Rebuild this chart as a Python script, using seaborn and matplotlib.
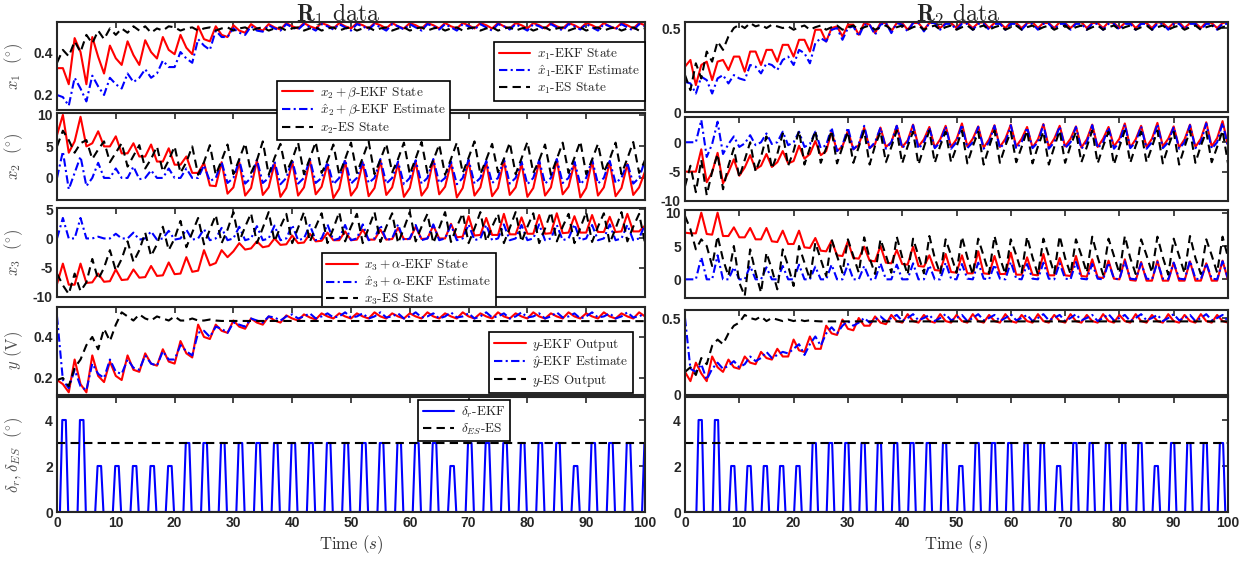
import matplotlib
matplotlib.use("Agg")
import matplotlib.pyplot as plt
from matplotlib.font_manager import FontProperties
import seaborn as sns

# time grid (s), one sample per second
T = list(range(101))

# ---------------- R1 data (left column) ----------------
L_X1_EKF = [0.325, 0.325, 0.25, 0.465, 0.40, 0.25, 0.47, 0.378, 0.30, 0.43,
            0.371, 0.34, 0.45, 0.386, 0.34, 0.455, 0.40, 0.37, 0.47, 0.41,
            0.39, 0.48, 0.42, 0.39, 0.52, 0.46, 0.45, 0.52, 0.48, 0.47,
            0.525, 0.50, 0.49, 0.53, 0.51, 0.50, 0.53, 0.515, 0.505, 0.535,
            0.52, 0.51, 0.535, 0.52, 0.51, 0.535, 0.525, 0.51, 0.535, 0.52,
            0.51, 0.535, 0.525, 0.51, 0.535, 0.525, 0.51, 0.535, 0.52, 0.51,
            0.535, 0.525, 0.51, 0.535, 0.525, 0.51, 0.535, 0.52, 0.51, 0.535,
            0.525, 0.51, 0.535, 0.525, 0.51, 0.535, 0.52, 0.51, 0.535, 0.525,
            0.51, 0.535, 0.525, 0.51, 0.535, 0.52, 0.51, 0.535, 0.525, 0.51,
            0.535, 0.525, 0.51, 0.535, 0.52, 0.51, 0.535, 0.525, 0.51, 0.535,
            0.525]
L_X1_EST = [0.20, 0.19, 0.15, 0.28, 0.23, 0.17, 0.29, 0.24, 0.20, 0.28,
            0.25, 0.23, 0.30, 0.26, 0.28, 0.32, 0.28, 0.30, 0.36, 0.33,
            0.33, 0.40, 0.37, 0.35, 0.46, 0.43, 0.41, 0.50, 0.47, 0.47,
            0.51, 0.49, 0.48, 0.52, 0.50, 0.495, 0.525, 0.51, 0.50, 0.53,
            0.515, 0.505, 0.53, 0.515, 0.50, 0.53, 0.52, 0.505, 0.53, 0.515,
            0.50, 0.53, 0.52, 0.505, 0.53, 0.515, 0.50, 0.53, 0.52, 0.505,
            0.53, 0.515, 0.50, 0.53, 0.52, 0.505, 0.53, 0.515, 0.50, 0.53,
            0.52, 0.505, 0.53, 0.515, 0.50, 0.53, 0.52, 0.505, 0.53, 0.515,
            0.50, 0.53, 0.52, 0.505, 0.53, 0.515, 0.50, 0.53, 0.52, 0.505,
            0.53, 0.515, 0.50, 0.53, 0.52, 0.505, 0.53, 0.515, 0.50, 0.53,
            0.52]
L_X1_ES = [0.35, 0.41, 0.38, 0.45, 0.40, 0.48, 0.44, 0.50, 0.46, 0.51,
           0.48, 0.51, 0.49, 0.52, 0.50, 0.52, 0.49, 0.51, 0.50, 0.52,
           0.515, 0.50, 0.51, 0.515, 0.50, 0.51, 0.515, 0.50, 0.51, 0.515,
           0.50, 0.51, 0.515, 0.50, 0.51, 0.515, 0.50, 0.51, 0.515, 0.50,
           0.51, 0.515, 0.50, 0.51, 0.515, 0.50, 0.51, 0.515, 0.50, 0.51,
           0.515, 0.50, 0.51, 0.515, 0.50, 0.51, 0.515, 0.50, 0.51, 0.515,
           0.50, 0.51, 0.515, 0.50, 0.51, 0.515, 0.50, 0.51, 0.515, 0.50,
           0.51, 0.515, 0.50, 0.51, 0.515, 0.50, 0.51, 0.515, 0.50, 0.51,
           0.515, 0.50, 0.51, 0.515, 0.50, 0.51, 0.515, 0.50, 0.51, 0.515,
           0.50, 0.51, 0.515, 0.50, 0.51, 0.515, 0.50, 0.51, 0.515, 0.50,
           0.51]

L_X2_EKF = [6.8, 10.0, 4.0, 5.8, 9.7, 5.0, 5.5, 7.4, 5.0, 5.0,
            6.6, 3.9, 3.9, 5.5, 3.4, 3.4, 5.3, 2.6, 2.6, 4.7,
            2.1, 2.1, 3.4, 0.8, 0.8, 2.4, -1.2, -1.3, 2.5, -2.5,
            -1.5, 2.5, -2.8, -1.6, 2.8, -2.7, -1.5, 2.3, -3.0, -1.6,
            2.6, -2.8, -1.5, 2.9, -2.6, -1.4, 2.2, -3.2, -1.7, 2.7,
            -2.8, -1.5, 2.4, -2.9, -1.6, 2.8, -2.7, -1.5, 2.3, -3.0,
            -1.6, 2.6, -2.8, -1.5, 2.9, -2.6, -1.4, 2.4, -3.1, -1.6,
            2.7, -2.8, -1.5, 2.5, -2.9, -1.6, 2.8, -2.7, -1.5, 2.3,
            -3.0, -1.6, 2.6, -2.8, -1.5, 2.9, -2.6, -1.4, 2.4, -3.1,
            -1.6, 2.7, -2.8, -1.5, 2.5, -2.9, -1.6, 2.2, -2.7, -1.5,
            1.0]
L_X2_EST = [0.0, 4.2, -1.8, 0.8, 3.4, -1.3, 0.0, 2.4, 0.0, 0.0,
            1.5, 0.0, 0.0, 1.8, -0.2, 0.0, 1.2, 0.0, 0.0, 1.5,
            0.0, 0.0, 1.5, 0.0, 0.0, 2.0, -0.5, 0.0, 2.5, -0.8,
            0.0, 2.8, -0.9, 0.0, 2.9, -0.8, 0.0, 2.6, -1.0, 0.0,
            2.8, -0.9, 0.0, 3.0, -0.8, 0.0, 2.5, -1.0, 0.0, 2.9,
            -0.9, 0.0, 2.7, -0.8, 0.0, 3.0, -0.9, 0.0, 2.6, -1.0,
            0.0, 2.8, -0.9, 0.0, 3.0, -0.8, 0.0, 2.6, -1.0, 0.0,
            2.9, -0.9, 0.0, 2.7, -0.8, 0.0, 3.0, -0.9, 0.0, 2.6,
            -1.0, 0.0, 2.8, -0.9, 0.0, 3.0, -0.8, 0.0, 2.6, -1.0,
            0.0, 2.9, -0.9, 0.0, 2.7, -0.8, 0.0, 2.4, -0.9, 0.0,
            2.8]
L_X2_ES = [5.0, 7.5, 6.0, 4.0, 5.5, 6.0, 3.0, 4.5, 5.8, 2.5,
           4.0, 5.5, 1.8, 3.5, 5.2, 1.5, 3.0, 5.0, 1.0, 2.8,
           5.0, 0.8, 2.5, 5.0, 0.5, 2.5, 5.2, 0.5, 2.8, 5.3,
           0.6, 3.0, 5.5, 0.8, 2.8, 5.8, 0.5, 3.2, 5.4, 0.9,
           2.9, 5.6, 0.6, 3.1, 5.7, 0.8, 2.7, 5.3, 0.5, 3.0,
           5.6, 0.8, 3.2, 5.8, 0.6, 2.9, 5.4, 0.9, 3.0, 5.6,
           0.6, 3.1, 5.7, 0.8, 2.8, 5.3, 0.5, 3.0, 5.6, 0.8,
           3.2, 5.8, 0.6, 2.9, 5.4, 0.9, 3.0, 5.6, 0.6, 3.1,
           5.7, 0.8, 2.8, 5.3, 0.5, 3.0, 5.6, 0.8, 3.2, 5.8,
           0.6, 2.9, 5.4, 0.9, 3.0, 5.6, 0.6, 3.1, 5.7, 0.8,
           2.8]

L_X3_EKF = [-7.8, -4.3, -7.9, -7.9, -4.3, -7.6, -7.5, -6.0, -7.4, -7.3,
            -5.3, -7.1, -7.0, -5.3, -6.7, -6.6, -4.7, -6.4, -6.3, -4.1,
            -6.1, -6.0, -3.2, -5.7, -5.5, -2.0, -4.6, -4.2, -2.0, -3.2,
            -2.2, -0.8, -1.9, -1.7, -0.5, -1.5, -1.3, 0.0, -1.1, -1.0,
            0.5, -0.8, -0.7, 0.8, -0.5, -0.4, 1.0, -0.3, -0.3, 1.2,
            -0.3, -0.2, 1.5, -0.2, -0.2, 1.5, -0.2, -0.1, 1.8, -0.1,
            -0.1, 2.0, -0.1, 0.0, 2.2, 0.0, 0.0, 2.5, 0.2, 0.3,
            3.8, 0.5, 0.6, 3.5, 0.6, 0.6, 4.2, 0.7, 0.7, 3.6,
            0.8, 0.8, 4.0, 0.8, 0.9, 4.3, 0.9, 1.0, 3.8, 1.0,
            1.0, 4.0, 1.1, 1.1, 3.7, 1.1, 1.2, 4.2, 1.2, 1.2,
            2.2]
L_X3_EST = [0.0, 3.5, 0.0, 0.0, 3.5, 0.0, 0.0, 0.3, 0.0, 0.0,
            0.8, 0.0, 0.0, 1.0, -0.2, 0.0, 1.2, -0.2, 0.0, 1.3,
            -0.2, 0.0, 1.5, -0.2, 0.0, 1.6, -0.3, 0.0, 1.8, -0.3,
            0.0, 2.0, -0.3, 0.0, 2.1, -0.3, 0.0, 2.2, -0.3, 0.0,
            2.3, -0.3, 0.0, 2.3, -0.3, 0.0, 2.4, -0.3, 0.0, 2.3,
            -0.3, 0.0, 2.4, -0.3, 0.0, 2.3, -0.3, 0.0, 2.4, -0.3,
            0.0, 2.3, -0.3, 0.0, 2.4, -0.3, 0.0, 2.3, -0.3, 0.0,
            2.4, -0.3, 0.0, 2.3, -0.3, 0.0, 2.4, -0.3, 0.0, 2.3,
            -0.3, 0.0, 2.4, -0.3, 0.0, 2.3, -0.3, 0.0, 2.4, -0.3,
            0.0, 2.3, -0.3, 0.0, 2.4, -0.3, 0.0, 2.3, -0.3, 0.0,
            2.4]
L_X3_ES = [-6.0, -8.0, -9.5, -6.0, -9.0, -7.5, -3.5, -7.0, -5.0, -2.0,
           -5.5, -3.5, -0.5, -4.0, -2.0, 1.0, -3.0, -1.0, 2.0, -2.0,
           0.0, 3.0, -1.5, 1.0, 3.5, -1.0, 1.5, 4.0, -0.8, 1.5,
           4.5, -0.5, 2.0, 4.3, -0.8, 1.8, 4.5, -0.5, 2.0, 4.2,
           -0.8, 1.8, 4.5, -0.6, 2.0, 4.3, -0.8, 1.7, 4.5, -0.5,
           2.0, 4.2, -0.8, 1.8, 4.5, -0.6, 2.0, 4.3, -0.8, 1.7,
           4.5, -0.5, 2.0, 4.2, -0.8, 1.8, 4.5, -0.6, 2.0, 4.3,
           -0.8, 1.7, 4.5, -0.5, 2.0, 4.2, -0.8, 1.8, 4.5, -0.6,
           2.0, 4.3, -0.8, 1.7, 4.5, -0.5, 2.0, 4.2, -0.8, 1.8,
           4.5, -0.6, 2.0, 4.3, -0.8, 1.7, 4.5, -0.5, 2.0, 4.2,
           -0.8]

L_Y_EKF = [0.19, 0.17, 0.13, 0.29, 0.17, 0.13, 0.31, 0.21, 0.18, 0.28,
           0.21, 0.19, 0.31, 0.24, 0.23, 0.32, 0.27, 0.26, 0.34, 0.28,
           0.27, 0.38, 0.32, 0.30, 0.46, 0.40, 0.39, 0.46, 0.43, 0.42,
           0.48, 0.45, 0.44, 0.49, 0.47, 0.46, 0.50, 0.48, 0.47, 0.505,
           0.49, 0.48, 0.51, 0.495, 0.485, 0.515, 0.50, 0.49, 0.515, 0.50,
           0.49, 0.515, 0.50, 0.49, 0.52, 0.50, 0.49, 0.515, 0.50, 0.49,
           0.515, 0.50, 0.49, 0.52, 0.50, 0.49, 0.515, 0.50, 0.49, 0.52,
           0.50, 0.49, 0.515, 0.50, 0.49, 0.52, 0.50, 0.49, 0.515, 0.50,
           0.49, 0.52, 0.50, 0.49, 0.515, 0.50, 0.49, 0.52, 0.50, 0.49,
           0.515, 0.50, 0.49, 0.52, 0.50, 0.49, 0.515, 0.50, 0.49, 0.52,
           0.50]
L_Y_EST = [0.50, 0.19, 0.15, 0.24, 0.16, 0.14, 0.27, 0.22, 0.20, 0.29,
           0.23, 0.22, 0.29, 0.25, 0.24, 0.31, 0.27, 0.26, 0.33, 0.29,
           0.29, 0.36, 0.33, 0.31, 0.42, 0.43, 0.40, 0.45, 0.44, 0.42,
           0.47, 0.46, 0.45, 0.49, 0.48, 0.47, 0.50, 0.495, 0.48, 0.50,
           0.51, 0.49, 0.50, 0.515, 0.49, 0.50, 0.515, 0.495, 0.50, 0.52,
           0.495, 0.50, 0.515, 0.49, 0.50, 0.52, 0.495, 0.50, 0.515, 0.49,
           0.50, 0.52, 0.495, 0.50, 0.515, 0.49, 0.50, 0.52, 0.495, 0.50,
           0.515, 0.49, 0.50, 0.52, 0.495, 0.50, 0.515, 0.49, 0.50, 0.52,
           0.495, 0.50, 0.515, 0.49, 0.50, 0.52, 0.495, 0.50, 0.515, 0.49,
           0.50, 0.52, 0.495, 0.50, 0.515, 0.49, 0.50, 0.52, 0.495, 0.50,
           0.515]
L_Y_ES_T = list(range(30)) + [100]
L_Y_ES = [0.19, 0.20, 0.16, 0.25, 0.29, 0.36, 0.40, 0.34, 0.44, 0.38,
          0.46, 0.52, 0.50, 0.48, 0.51, 0.49, 0.48, 0.50, 0.49, 0.48,
          0.50, 0.48, 0.48, 0.49, 0.48, 0.48, 0.485, 0.48, 0.478, 0.478,
          0.477]

L_PULSE_START = [0.5, 3.5, 6.5, 9.5, 12.5, 15.5, 18.5, 21.5, 24.5, 27.5,
                 30.5, 33.5, 36.5, 39.5, 42.5, 45.5, 48.5, 51.5, 54.5, 57.5,
                 60.5, 63.5, 66.5, 69.5, 72.5, 75.5, 78.5, 81.5, 84.5, 87.5,
                 90.5, 93.5, 96.5, 99.5]
L_PULSE_HEIGHT = [4, 4, 2, 2, 2, 2, 2, 3, 3, 3,
                  3, 3, 3, 3, 3, 3, 3, 3, 3, 3,
                  3, 3, 2, 3, 3, 3, 3, 3, 3, 2,
                  3, 3, 3, 3]

# ---------------- R2 data (right column) ----------------
R_X1_EKF = [0.27, 0.31, 0.16, 0.28, 0.30, 0.19, 0.30, 0.31, 0.25, 0.33,
            0.33, 0.24, 0.36, 0.36, 0.28, 0.37, 0.37, 0.30, 0.40, 0.40,
            0.33, 0.43, 0.43, 0.36, 0.49, 0.49, 0.42, 0.50, 0.51, 0.45,
            0.52, 0.52, 0.46, 0.53, 0.52, 0.47, 0.53, 0.53, 0.48, 0.53,
            0.53, 0.49, 0.53, 0.53, 0.49, 0.53, 0.535, 0.50, 0.53, 0.53,
            0.50, 0.535, 0.53, 0.50, 0.53, 0.535, 0.50, 0.53, 0.53, 0.50,
            0.535, 0.53, 0.50, 0.53, 0.535, 0.50, 0.53, 0.53, 0.50, 0.535,
            0.53, 0.50, 0.53, 0.535, 0.50, 0.53, 0.53, 0.50, 0.535, 0.53,
            0.50, 0.53, 0.535, 0.50, 0.53, 0.53, 0.50, 0.535, 0.53, 0.50,
            0.53, 0.535, 0.50, 0.53, 0.53, 0.50, 0.535, 0.53, 0.50, 0.53,
            0.535]
R_X1_EST = [0.18, 0.17, 0.11, 0.21, 0.19, 0.11, 0.20, 0.22, 0.17, 0.22,
            0.20, 0.19, 0.28, 0.27, 0.23, 0.29, 0.28, 0.25, 0.31, 0.33,
            0.28, 0.37, 0.35, 0.29, 0.41, 0.44, 0.42, 0.49, 0.50, 0.43,
            0.50, 0.51, 0.45, 0.52, 0.52, 0.46, 0.52, 0.53, 0.47, 0.53,
            0.52, 0.48, 0.53, 0.53, 0.48, 0.53, 0.53, 0.49, 0.525, 0.525,
            0.49, 0.525, 0.525, 0.49, 0.525, 0.525, 0.49, 0.525, 0.525, 0.49,
            0.525, 0.525, 0.49, 0.525, 0.525, 0.49, 0.525, 0.525, 0.49, 0.525,
            0.525, 0.49, 0.525, 0.525, 0.49, 0.525, 0.525, 0.49, 0.525, 0.525,
            0.49, 0.525, 0.525, 0.49, 0.525, 0.525, 0.49, 0.525, 0.525, 0.49,
            0.525, 0.525, 0.49, 0.525, 0.525, 0.49, 0.525, 0.525, 0.49, 0.525,
            0.525]
R_X1_ES = [0.22, 0.13, 0.29, 0.20, 0.36, 0.30, 0.42, 0.37, 0.45, 0.50,
           0.52, 0.50, 0.53, 0.51, 0.52, 0.50, 0.52, 0.51, 0.50, 0.51,
           0.49, 0.505, 0.515, 0.49, 0.505, 0.515, 0.49, 0.505, 0.515, 0.49,
           0.505, 0.515, 0.49, 0.505, 0.515, 0.49, 0.505, 0.515, 0.49, 0.505,
           0.515, 0.49, 0.505, 0.515, 0.49, 0.505, 0.515, 0.49, 0.505, 0.515,
           0.49, 0.505, 0.515, 0.49, 0.505, 0.515, 0.49, 0.505, 0.515, 0.49,
           0.505, 0.515, 0.49, 0.505, 0.515, 0.49, 0.505, 0.515, 0.49, 0.505,
           0.515, 0.49, 0.505, 0.515, 0.49, 0.505, 0.515, 0.49, 0.505, 0.515,
           0.49, 0.505, 0.515, 0.49, 0.505, 0.515, 0.49, 0.505, 0.515, 0.49,
           0.505, 0.515, 0.49, 0.505, 0.515, 0.49, 0.505, 0.515, 0.49, 0.505,
           0.515]

R_X2_EKF = [-5.0, -5.0, -5.0, -1.2, -6.8, -5.1, -1.8, -7.0, -5.1, -2.9,
            -5.7, -4.3, -2.2, -4.6, -4.0, -2.0, -4.2, -3.4, -1.5, -3.6,
            -3.2, -0.6, -2.8, -2.0, 0.2, -2.2, -1.5, 1.8, -1.5, -0.7,
            2.0, -1.2, -0.5, 2.5, -1.0, -0.3, 2.5, -0.8, 0.0, 2.8,
            -0.8, 0.3, 3.0, -0.7, 0.5, 2.6, -0.9, 0.5, 2.8, -0.8,
            0.5, 3.2, -0.7, 0.6, 2.7, -0.9, 0.5, 2.9, -0.8, 0.6,
            3.0, -0.7, 0.6, 2.6, -0.9, 0.5, 3.1, -0.8, 0.6, 2.8,
            -0.7, 0.6, 2.7, -0.9, 0.5, 3.0, -0.8, 0.6, 2.6, -0.7,
            0.6, 3.2, -0.9, 0.5, 2.8, -0.8, 0.6, 3.3, -0.7, 0.6,
            2.7, -0.9, 0.5, 3.0, -0.8, 0.6, 3.4, -0.7, 0.7, 3.6,
            -0.5]
R_X2_EST = [0.0, 0.0, 0.0, 3.8, -2.5, -0.3, 3.5, -2.0, -0.3, 1.0,
            -0.8, -0.2, 1.2, -0.5, 0.0, 1.5, -0.3, 0.0, 1.8, -0.5,
            0.0, 1.8, -0.8, -0.3, 1.8, -1.0, -0.5, 2.5, -1.5, -0.5,
            2.5, -1.2, -0.3, 2.8, -1.0, 0.0, 2.5, -1.1, 0.0, 2.8,
            -1.0, 0.0, 2.9, -1.1, 0.0, 2.5, -1.0, 0.0, 2.7, -1.1,
            0.0, 3.0, -1.0, 0.0, 2.6, -1.1, 0.0, 2.8, -1.0, 0.0,
            2.9, -1.1, 0.0, 2.5, -1.0, 0.0, 3.0, -1.1, 0.0, 2.7,
            -1.0, 0.0, 2.6, -1.1, 0.0, 2.9, -1.0, 0.0, 2.5, -1.1,
            0.0, 3.0, -1.0, 0.0, 2.7, -1.1, 0.0, 3.1, -1.0, 0.0,
            2.6, -1.1, 0.0, 2.9, -1.0, 0.0, 3.2, -1.1, 0.0, 3.3,
            -0.8]
R_X2_ES = [-7.5, -4.0, -8.5, -3.0, -9.0, -5.0, -2.0, -8.0, -4.0, -1.0,
           -6.0, -3.0, 0.0, -5.0, -2.5, 1.0, -4.5, -2.0, 1.5, -4.0,
           -1.5, 2.0, -3.8, -1.0, 2.0, -3.5, -1.0, 2.0, -3.6, -0.8,
           1.8, -3.5, -0.8, 2.0, -3.8, -0.6, 1.8, -3.4, -0.8, 2.0,
           -3.6, -0.7, 1.8, -3.8, -0.8, 2.0, -3.5, -0.6, 1.8, -3.4,
           -0.8, 2.0, -3.6, -0.7, 1.8, -3.8, -0.8, 2.0, -3.5, -0.6,
           1.8, -3.4, -0.8, 2.0, -3.6, -0.7, 1.8, -3.8, -0.8, 2.0,
           -3.5, -0.6, 1.8, -3.4, -0.8, 2.0, -3.6, -0.7, 1.8, -3.8,
           -0.8, 2.0, -3.5, -0.6, 1.8, -3.4, -0.8, 2.0, -3.6, -0.7,
           1.8, -3.8, -0.8, 2.0, -3.5, -0.6, 1.8, -3.4, -0.8, 2.0,
           -3.6]

R_X3_EKF = [7.0, 6.9, 6.9, 10.0, 6.8, 6.7, 10.0, 6.5, 6.5, 7.8,
            6.3, 6.3, 7.7, 6.0, 6.0, 7.7, 5.7, 5.6, 7.3, 5.3,
            5.3, 7.3, 4.8, 4.7, 6.2, 4.3, 4.2, 5.8, 3.6, 3.5,
            5.7, 3.2, 3.1, 4.9, 2.8, 2.7, 5.0, 2.5, 2.4, 4.4,
            2.3, 2.2, 4.9, 2.0, 1.9, 3.6, 1.4, 1.3, 3.8, 1.1,
            1.0, 3.6, 0.9, 0.9, 4.2, 0.9, 0.8, 3.5, 0.8, 0.8,
            4.0, 0.7, 0.7, 3.3, 0.7, 0.6, 3.8, 0.6, 0.6, 3.2,
            0.6, 0.5, 3.5, 0.5, 0.4, 3.0, 0.3, 0.2, 2.8, 0.1,
            0.0, 3.0, -0.1, -0.2, 2.6, -0.2, -0.2, 2.8, -0.2, -0.2,
            2.5, -0.2, -0.2, 2.7, -0.2, -0.2, 2.4, -0.2, -0.2, 2.8,
            -0.1]
R_X3_EST = [0.0, 0.0, 0.0, 3.3, 0.0, 0.0, 3.6, 0.0, 0.0, 1.8,
            0.0, 0.0, 2.0, 0.0, 0.0, 1.8, 0.0, 0.0, 2.0, 0.0,
            0.0, 2.2, 0.0, 0.0, 1.9, 0.0, 0.0, 2.2, 0.0, 0.0,
            2.3, 0.0, 0.0, 2.0, 0.0, 0.0, 2.4, 0.0, 0.0, 2.2,
            0.0, 0.0, 2.4, 0.0, 0.0, 2.1, 0.0, 0.0, 2.5, 0.1,
            0.0, 2.3, 0.1, 0.0, 2.5, 0.1, 0.0, 2.2, 0.1, 0.0,
            2.6, 0.1, 0.0, 2.3, 0.1, 0.0, 2.5, 0.1, 0.0, 2.4,
            0.1, 0.0, 2.6, 0.1, 0.0, 2.3, 0.1, 0.0, 2.5, 0.1,
            0.0, 2.7, 0.1, 0.0, 2.4, 0.1, 0.0, 2.6, 0.1, 0.0,
            2.5, 0.1, 0.0, 2.8, 0.1, 0.0, 2.4, 0.1, 0.0, 2.7,
            0.1]
R_X3_ES = [9.5, 7.5, 4.5, 6.0, 5.0, 2.0, 6.5, 3.0, 0.5, 5.0,
           -0.5, -2.5, 4.5, 1.0, -2.0, 4.0, 1.5, -1.5, 4.5, 2.0,
           -1.0, 5.0, 2.5, 0.0, 5.5, 3.0, 0.5, 6.0, 3.5, 1.0,
           6.0, 3.5, 1.0, 6.3, 3.2, 0.8, 6.0, 3.6, 1.0, 6.4,
           3.3, 0.7, 6.1, 3.5, 0.9, 6.5, 3.2, 0.8, 6.0, 3.6,
           1.0, 6.4, 3.3, 0.7, 6.1, 3.5, 0.9, 6.5, 3.2, 0.8,
           6.0, 3.6, 1.0, 6.4, 3.3, 0.7, 6.1, 3.5, 0.9, 6.5,
           3.2, 0.8, 6.0, 3.6, 1.0, 6.4, 3.3, 0.7, 6.1, 3.5,
           0.9, 6.5, 3.2, 0.8, 6.0, 3.6, 1.0, 6.4, 3.3, 0.7,
           6.1, 3.5, 0.9, 6.5, 3.2, 0.8, 6.0, 3.6, 1.0, 6.4,
           3.3]

R_Y_EKF = [0.15, 0.09, 0.21, 0.14, 0.09, 0.25, 0.18, 0.15, 0.23, 0.18,
           0.17, 0.25, 0.21, 0.20, 0.28, 0.24, 0.23, 0.30, 0.25, 0.25,
           0.36, 0.29, 0.28, 0.38, 0.30, 0.30, 0.45, 0.40, 0.39, 0.49,
           0.43, 0.42, 0.50, 0.45, 0.45, 0.51, 0.47, 0.46, 0.52, 0.48,
           0.47, 0.525, 0.48, 0.47, 0.52, 0.48, 0.47, 0.525, 0.48, 0.47,
           0.52, 0.48, 0.47, 0.525, 0.48, 0.47, 0.52, 0.48, 0.47, 0.525,
           0.48, 0.47, 0.52, 0.48, 0.47, 0.525, 0.48, 0.47, 0.52, 0.48,
           0.47, 0.525, 0.48, 0.47, 0.52, 0.48, 0.47, 0.525, 0.48, 0.47,
           0.52, 0.48, 0.47, 0.525, 0.48, 0.47, 0.52, 0.48, 0.47, 0.525,
           0.48, 0.47, 0.52, 0.48, 0.47, 0.525, 0.48, 0.47, 0.52, 0.48,
           0.47]
R_Y_EST = [0.50, 0.17, 0.15, 0.20, 0.10, 0.17, 0.21, 0.17, 0.19, 0.22,
           0.18, 0.20, 0.25, 0.22, 0.24, 0.28, 0.24, 0.26, 0.28, 0.27,
           0.30, 0.33, 0.26, 0.33, 0.38, 0.32, 0.40, 0.44, 0.40, 0.45,
           0.48, 0.45, 0.47, 0.50, 0.47, 0.49, 0.51, 0.48, 0.50, 0.52,
           0.48, 0.50, 0.525, 0.485, 0.50, 0.52, 0.48, 0.50, 0.525, 0.485,
           0.50, 0.52, 0.48, 0.50, 0.525, 0.485, 0.50, 0.52, 0.48, 0.50,
           0.525, 0.485, 0.50, 0.52, 0.48, 0.50, 0.525, 0.485, 0.50, 0.52,
           0.48, 0.50, 0.525, 0.485, 0.50, 0.52, 0.48, 0.50, 0.525, 0.485,
           0.50, 0.52, 0.48, 0.50, 0.525, 0.485, 0.50, 0.52, 0.48, 0.50,
           0.525, 0.485, 0.50, 0.52, 0.48, 0.50, 0.525, 0.485, 0.50, 0.52,
           0.48]
R_Y_ES_T = list(range(26)) + [100]
R_Y_ES = [0.15, 0.18, 0.13, 0.24, 0.20, 0.32, 0.36, 0.33, 0.40, 0.45,
          0.47, 0.52, 0.50, 0.49, 0.51, 0.48, 0.50, 0.49, 0.48, 0.49,
          0.48, 0.49, 0.48, 0.485, 0.48, 0.478, 0.478]

R_PULSE_START = [2.1, 5.1, 8.1, 11.1, 14.1, 17.1, 20.1, 23.1, 26.1, 29.1,
                 32.1, 35.1, 38.1, 41.1, 44.1, 47.1, 50.1, 53.1, 56.1, 59.1,
                 62.1, 65.1, 68.1, 71.1, 74.1, 77.1, 80.1, 83.1, 86.1, 89.1,
                 92.1, 95.1, 98.1]
R_PULSE_HEIGHT = [4, 4, 2, 2, 2, 2, 2, 3, 3, 3,
                  3, 3, 3, 3, 3, 3, 2, 3, 3, 3,
                  3, 3, 2, 3, 3, 3, 3, 3, 2, 3,
                  3, 3, 3]

# extremum-seeking steering input is constant
ES_DELTA_T = [0, 100]
ES_DELTA = [3, 3]

LEG_X1 = [r"$x_1$-EKF State", r"$\hat{x}_1$-EKF Estimate", r"$x_1$-ES State"]
LEG_X2 = [r"$x_2+\beta$-EKF State", r"$\hat{x}_2+\beta$-EKF Estimate", r"$x_2$-ES State"]
LEG_X3 = [r"$x_3+\alpha$-EKF State", r"$\hat{x}_3+\alpha$-EKF Estimate", r"$x_3$-ES State"]
LEG_Y = [r"$y$-EKF Output", r"$\hat{y}$-EKF Estimate", r"$y$-ES Output"]
LEG_D = [r"$\delta_r$-EKF", r"$\delta_{ES}$-ES"]

sns.set_style("white")
plt.rcParams["font.family"] = ["Liberation Sans", "DejaVu Sans"]
plt.rcParams["font.weight"] = "bold"
plt.rcParams["mathtext.fontset"] = "cm"
plt.rcParams["axes.unicode_minus"] = False

RED, BLUE, BLACK = "#ff0000", "#0000ff", "#000000"
DASH = (0, (4, 2.5))
DASHDOT = (0, (4, 1.6, 1, 1.6))
LEG_FONT = FontProperties(family="cmr10", size=9.5)
AX_COL = "#262626"

W, H = 1255, 563
fig = plt.figure(figsize=(12.55, 5.63), dpi=100)


def add_axes(l, t, r, b):
    return fig.add_axes([l / W, 1 - b / H, (r - l) / W, (b - t) / H])


def pulse_train(starts, heights):
    xs, ys = [0.0], [0.0]
    for s, h in zip(starts, heights):
        xs += [s, s + 0.4, s + 1.0, s + 1.4]
        ys += [0, h, h, 0]
    if xs[-1] < 100:
        xs.append(100.0)
        ys.append(0.0)
    return xs, ys


def draw(ax, x, y, color, ls, label):
    sns.lineplot(x=x, y=y, ax=ax, color=color, linestyle=ls, linewidth=1.5,
                 label=label, estimator=None, sort=False, legend=False)


def style(ax, ylim, yticks, yticklabels, show_x):
    ax.set_xlim(0, 100)
    ax.set_ylim(*ylim)
    ax.set_xticks(range(0, 101, 10))
    ax.set_yticks(yticks)
    ax.set_yticklabels(yticklabels)
    ax.tick_params(direction="in", length=4, width=1.2, top=True, right=True,
                   colors=AX_COL, labelsize=10, pad=3)
    if not show_x:
        ax.set_xticklabels([])
    for sp in ax.spines.values():
        sp.set_linewidth(1.5)
        sp.set_color(AX_COL)
        sp.set_visible(True)
    ax.set_xlabel("")
    ax.set_ylabel("")


def legend(ax, loc, anchor):
    leg = ax.legend(loc=loc, bbox_to_anchor=anchor, borderaxespad=0,
                    prop=LEG_FONT, frameon=True, fancybox=False,
                    edgecolor="black", framealpha=1, handlelength=2.4,
                    handletextpad=0.5, borderpad=0.35, labelspacing=0.12)
    leg.get_frame().set_linewidth(1.2)


def ylabel(ax, text):
    ax.set_ylabel(text, fontsize=12, color="#505050", fontweight="normal")
    ax.yaxis.set_label_coords(-0.054, 0.5)


# ---------------- left column: R1 ----------------
ax = add_axes(57, 22, 645, 110)
draw(ax, T, L_X1_EKF, RED, "-", LEG_X1[0])
draw(ax, T, L_X1_EST, BLUE, DASHDOT, LEG_X1[1])
draw(ax, T, L_X1_ES, BLACK, DASH, LEG_X1[2])
style(ax, (0.13, 0.54), [0.2, 0.4], ["0.2", "0.4"], False)
ylabel(ax, r"$x_1\ \ (^{\circ})$")
legend(ax, "upper right", (1.0, 0.775))

ax = add_axes(57, 113, 645, 200)
draw(ax, T, L_X2_EKF, RED, "-", LEG_X2[0])
draw(ax, T, L_X2_EST, BLUE, DASHDOT, LEG_X2[1])
draw(ax, T, L_X2_ES, BLACK, DASH, LEG_X2[2])
style(ax, (-3.5, 10.3), [0, 5, 10], ["0", "5", "10"], False)
ylabel(ax, r"$x_2\ \ (^{\circ})$")
legend(ax, "upper left", (0.374, 1.368))

ax = add_axes(57, 208, 645, 297)
draw(ax, T, L_X3_EKF, RED, "-", LEG_X3[0])
draw(ax, T, L_X3_EST, BLUE, DASHDOT, LEG_X3[1])
draw(ax, T, L_X3_ES, BLACK, DASH, LEG_X3[2])
style(ax, (-10, 5.2), [-10, -5, 0, 5], ["-10", "-5", "0", "5"], False)
ylabel(ax, r"$x_3\ \ (^{\circ})$")
legend(ax, "upper left", (0.45, 0.494))

ax = add_axes(57, 307, 645, 395)
draw(ax, T, L_Y_EKF, RED, "-", LEG_Y[0])
draw(ax, T, L_Y_EST, BLUE, DASHDOT, LEG_Y[1])
draw(ax, L_Y_ES_T, L_Y_ES, BLACK, DASH, LEG_Y[2])
style(ax, (0.117, 0.546), [0.2, 0.4], ["0.2", "0.4"], False)
ylabel(ax, r"$y\ (\mathrm{V})$")
legend(ax, "upper right", (0.98, 0.716))

ax = add_axes(57, 397, 645, 512)
px, py = pulse_train(L_PULSE_START, L_PULSE_HEIGHT)
draw(ax, px, py, BLUE, "-", LEG_D[0])
draw(ax, ES_DELTA_T, ES_DELTA, BLACK, DASH, LEG_D[1])
style(ax, (0, 5), [0, 2, 4], ["0", "2", "4"], True)
ylabel(ax, r"$\delta_r, \delta_{ES}\ \ (^{\circ})$")
ax.set_xlabel(r"Time $(s)$", fontfamily="cmr10", fontweight="normal",
              fontsize=12, color="#333333", labelpad=2)
legend(ax, "upper left", (0.614, 0.974))

fig.text(338 / W, 1 - 1.5 / H, r"$\mathbf{R}_1$ data", fontfamily="cmr10",
         fontweight="normal", fontsize=17, ha="center", va="top")

# ---------------- right column: R2 ----------------
ax = add_axes(685, 22, 1228, 112)
draw(ax, T, R_X1_EKF, RED, "-", LEG_X1[0])
draw(ax, T, R_X1_EST, BLUE, DASHDOT, LEG_X1[1])
draw(ax, T, R_X1_ES, BLACK, DASH, LEG_X1[2])
style(ax, (0, 0.536), [0, 0.5], ["0", "0.5"], False)

ax = add_axes(685, 117, 1228, 201)
draw(ax, T, R_X2_EKF, RED, "-", LEG_X2[0])
draw(ax, T, R_X2_EST, BLUE, DASHDOT, LEG_X2[1])
draw(ax, T, R_X2_ES, BLACK, DASH, LEG_X2[2])
style(ax, (-10, 4.3), [-10, -5, 0], ["-10", "-5", "0"], False)

ax = add_axes(685, 210, 1228, 298)
draw(ax, T, R_X3_EKF, RED, "-", LEG_X3[0])
draw(ax, T, R_X3_EST, BLUE, DASHDOT, LEG_X3[1])
draw(ax, T, R_X3_ES, BLACK, DASH, LEG_X3[2])
style(ax, (-2.8, 10.4), [0, 5, 10], ["0", "5", "10"], False)

ax = add_axes(685, 310, 1228, 395)
draw(ax, T, R_Y_EKF, RED, "-", LEG_Y[0])
draw(ax, T, R_Y_EST, BLUE, DASHDOT, LEG_Y[1])
draw(ax, R_Y_ES_T, R_Y_ES, BLACK, DASH, LEG_Y[2])
style(ax, (0, 0.552), [0, 0.5], ["0", "0.5"], False)

ax = add_axes(685, 397, 1228, 512)
px, py = pulse_train(R_PULSE_START, R_PULSE_HEIGHT)
draw(ax, px, py, BLUE, "-", LEG_D[0])
draw(ax, ES_DELTA_T, ES_DELTA, BLACK, DASH, LEG_D[1])
style(ax, (0, 5), [0, 2, 4], ["0", "2", "4"], True)
ax.set_xlabel(r"Time $(s)$", fontfamily="cmr10", fontweight="normal",
              fontsize=12, color="#333333", labelpad=2)

fig.text(958 / W, 1 - 1.5 / H, r"$\mathbf{R}_2$ data", fontfamily="cmr10",
         fontweight="normal", fontsize=17, ha="center", va="top")

fig.savefig("out.png", dpi=100, facecolor="white")
